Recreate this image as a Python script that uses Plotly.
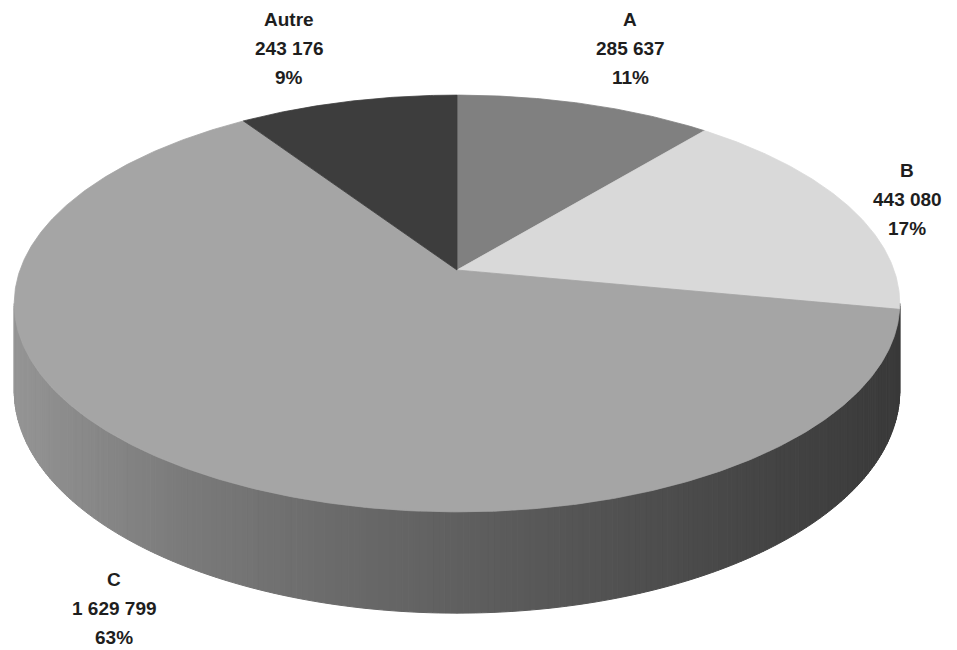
import math
import numpy as np
import plotly.graph_objects as go

# --- data -----------------------------------------------------------------
categories = ["A", "B", "C", "Autre"]
values = [285637, 443080, 1629799, 243176]

# --- style ----------------------------------------------------------------
top_colors = ["#808080", "#d9d9d9", "#a5a5a5", "#3d3d3d"]
# grey level of the rim, sampled along screen x (left -> right)
rim_shade_x = [12, 50, 180, 330, 630, 780, 897]
rim_shade_v = [150, 142, 123, 107, 80, 67, 58]
label_centers = [(630, 48), (907, 199), (114, 608), (289, 48)]
label_line_gap = 29.0
label_font = dict(family="Liberation Sans, Arial, sans-serif", size=19, color="#1e1e1e")

W, H = 957, 650

# --- projection of a tilted disc (simple perspective) ----------------------
CX, CY = 457.0, 270.0      # projected centre of the top face
RX, RY = 437.0, 203.0      # radii of the disc before perspective
PERSP = 0.1607             # perspective strength
THICK = 85.0               # disc thickness


def project(theta_deg, depth=0.0):
    """Screen point of the rim at angle theta (clockwise from 12 o'clock)."""
    t = np.radians(theta_deg)
    X, Y = np.sin(t), np.cos(t)
    d = 1.0 + PERSP * Y
    return CX + RX * X / d, CY + (-RY * Y + depth) / d


def fmt_thousands(v):
    return f"{v:,}".replace(",", " ")


total = float(sum(values))
fractions = [v / total for v in values]
bounds = np.concatenate([[0.0], np.cumsum(fractions)]) * 360.0

fig = go.Figure()

# --- side wall: thin strips shaded from light (left) to dark (right) --------
theta_right = math.degrees(math.acos(-PERSP))
theta_left = 360.0 - theta_right
edges = np.linspace(theta_right, theta_left, 241)
for t0, t1 in zip(edges[:-1], edges[1:]):
    tt = np.linspace(t0, t1, 3)
    xt, yt = project(tt)
    xb, yb = project(tt[::-1], THICK)
    xs = np.concatenate([xt, xb, xt[:1]])
    ys = np.concatenate([yt, yb, yt[:1]])
    g = int(round(np.interp(xs.mean(), rim_shade_x, rim_shade_v)))
    col = f"rgb({g},{g},{g})"
    fig.add_trace(go.Scatter(
        x=xs, y=ys, mode="lines", fill="toself", fillcolor=col,
        line=dict(color=col, width=1), hoverinfo="skip", showlegend=False))

# --- top face: one wedge per category --------------------------------------
for i, name in enumerate(categories):
    t0, t1 = bounds[i], bounds[i + 1]
    n = max(8, int((t1 - t0) * 2))
    tt = np.linspace(t0, t1, n)
    xr, yr = project(tt)
    xs = np.concatenate([[CX], xr, [CX]])
    ys = np.concatenate([[CY], yr, [CY]])
    fig.add_trace(go.Scatter(
        x=xs, y=ys, mode="lines", fill="toself", fillcolor=top_colors[i],
        line=dict(color=top_colors[i], width=0.8), name=name,
        hoverinfo="skip", showlegend=False))

# --- data labels -----------------------------------------------------------
for i, name in enumerate(categories):
    lines = [name, fmt_thousands(values[i]), f"{round(fractions[i] * 100)}%"]
    lx, ly = label_centers[i]
    for k, txt in enumerate(lines):
        fig.add_annotation(
            x=lx, y=ly + (k - 1) * label_line_gap, xref="x", yref="y",
            text=f"<b>{txt}</b>", showarrow=False, font=label_font,
            xanchor="center", yanchor="middle")

fig.update_layout(
    width=W, height=H,
    margin=dict(l=0, r=0, t=0, b=0),
    paper_bgcolor="white", plot_bgcolor="white",
    showlegend=False, hovermode=False,
    xaxis=dict(range=[0, W], visible=False, fixedrange=True),
    yaxis=dict(range=[H, 0], visible=False, fixedrange=True),
)

fig.write_html("out.html")
